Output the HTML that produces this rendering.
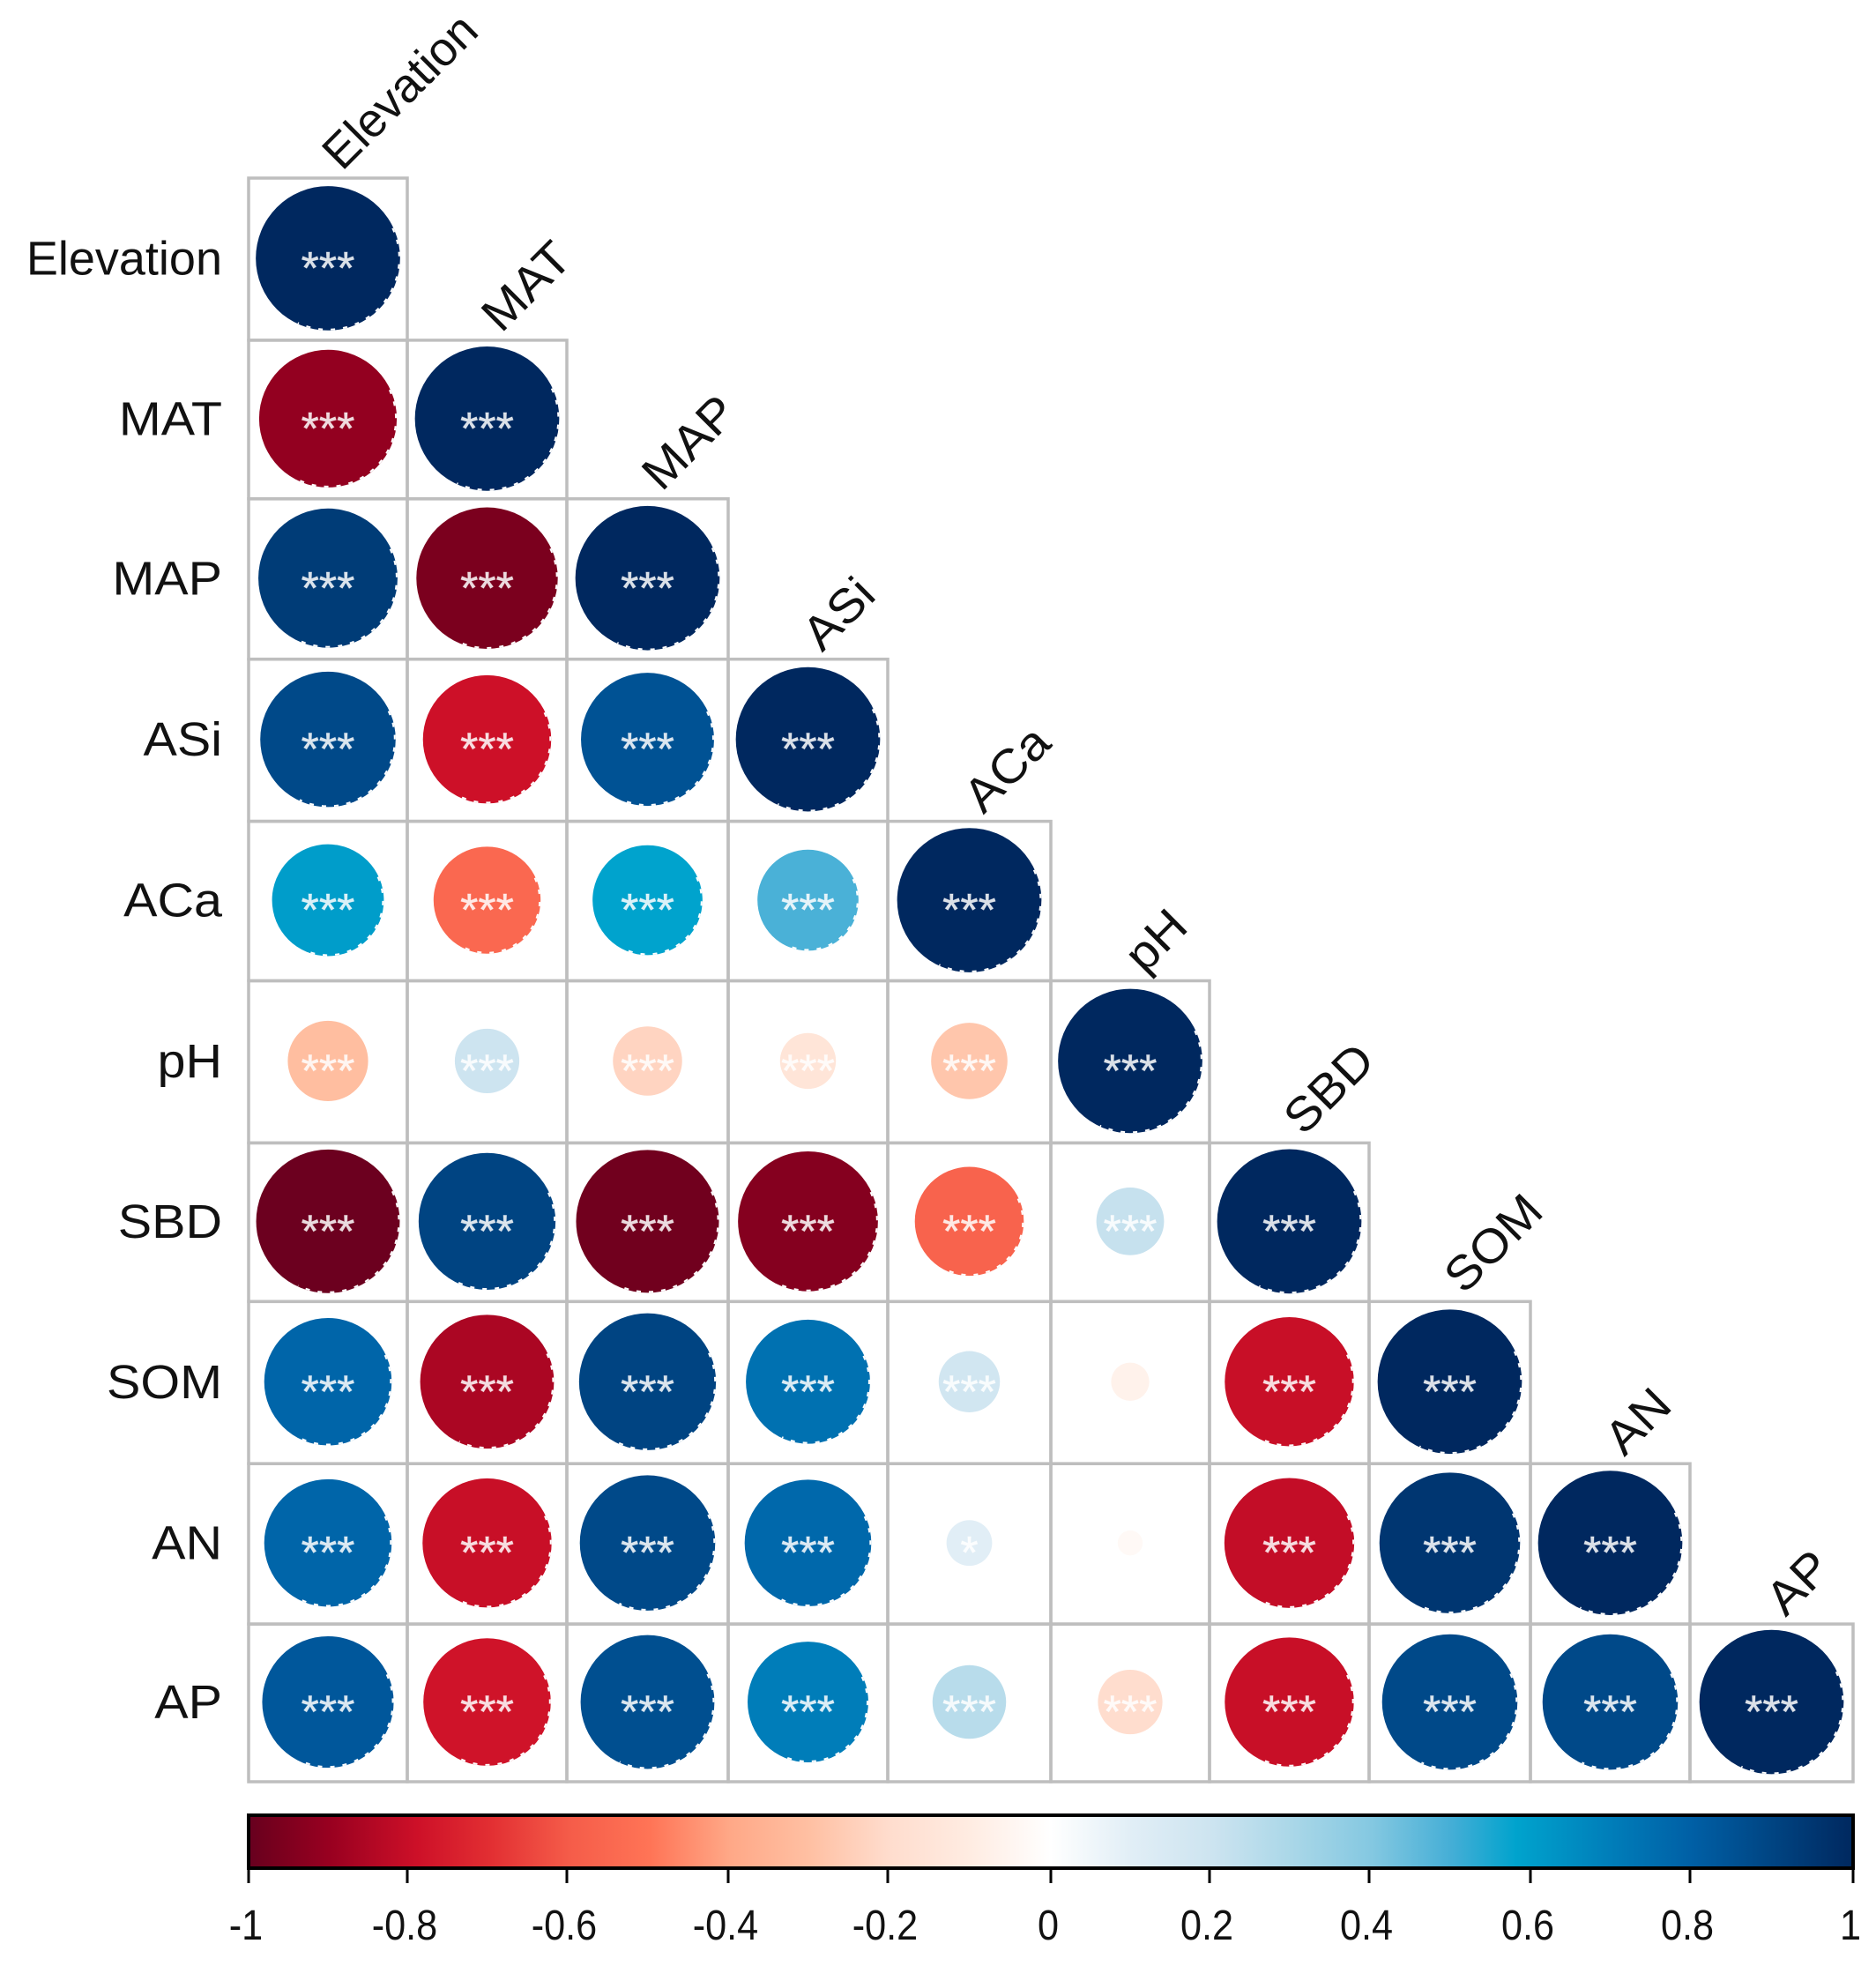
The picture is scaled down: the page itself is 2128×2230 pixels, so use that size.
<!DOCTYPE html>
<html lang="en">
<head>
<meta charset="utf-8">
<title>Correlation matrix</title>
<style>
html,body{margin:0;padding:0;background:#fff;width:2128px;height:2230px;overflow:hidden}
svg{display:block}
text{font-family:"Liberation Sans",sans-serif}
</style>
</head>
<body>
<svg id="chart" xmlns="http://www.w3.org/2000/svg" width="2128" height="2230" viewBox="0 0 2128 2230">
<defs><linearGradient id="barGradient" x1="0" x2="1" y1="0" y2="0"></linearGradient></defs>
<rect width="2128" height="2230" fill="#ffffff"/>
</svg>
<script>
const variables = ["Elevation","MAT","MAP","ASi","ACa","pH","SBD","SOM","AN","AP"];
const rowElevation = [1];
const rowMAT = [-0.91,1];
const rowMAP = [0.93,-0.96,1];
const rowASi = [0.88,-0.79,0.85,1];
const rowACa = [0.6,-0.55,0.58,0.49,1];
const rowPH = [-0.31,0.2,-0.23,-0.15,-0.28,1];
const rowSBD = [-0.99,0.9,-0.98,-0.94,-0.57,0.22,1];
const rowSOM = [0.78,-0.86,0.9,0.74,0.18,-0.07,-0.8,1];
const rowAN = [0.78,-0.8,0.88,0.77,0.1,-0.03,-0.81,0.95,1];
const rowAP = [0.83,-0.78,0.86,0.7,0.26,-0.2,-0.8,0.88,0.88,1];
const correlations = [rowElevation,rowMAT,rowMAP,rowASi,rowACa,rowPH,rowSBD,rowSOM,rowAN,rowAP];
const starsPH = [3,3,3,3,3,3];
const starsSOM = [3,3,3,3,3,0,3,3];
const starsAN = [3,3,3,3,1,0,3,3,3];
const significance = [[3],[3,3],[3,3,3],[3,3,3,3],[3,3,3,3,3],starsPH,[3,3,3,3,3,3,3],starsSOM,starsAN,[3,3,3,3,3,3,3,3,3,3]];
const scaleValues = [-1,-0.97,-0.9,-0.79,-0.7,-0.6,-0.5,-0.4,-0.3,-0.2,-0.1,0,0.1,0.2,0.3,0.4,0.5,0.58,0.7,0.8,0.9,1];
const scaleColors = [[103,0,31],[118,0,30],[152,0,32],[205,16,40],[226,46,50],[245,92,73],[255,116,86],[255,168,135],[255,192,163],[255,221,206],[255,236,226],[255,255,255],[225,238,246],[205,228,240],[170,215,232],[132,200,225],[68,174,214],[0,163,205],[0,125,185],[0,95,165],[0,68,130],[0,40,95]];
const tickLabels = ["-1","-0.8","-0.6","-0.4","-0.2","0","0.2","0.4","0.6","0.8","1"];

const NS = "http://www.w3.org/2000/svg";
const svg = document.getElementById("chart");
const gridLeft = 282, gridRight = 2102, gridTop = 202, gridBottom = 2021;
const count = variables.length;
const cellW = (gridRight - gridLeft) / count;
const cellH = (gridBottom - gridTop) / count;
const barTop = 2059, barBottom = 2119;
/* raster-rounding offsets of the original device grid (layout only) */
const snapX = [0,-2,-3,-2,-3,0,-2,-3,-2,-3,0];
const snapY = [0,2,0,0,2,1,3,1,3,3,0];

function xEdge(i){ return gridLeft + cellW * i + snapX[i]; }
function yEdge(i){ return gridTop + cellH * i + snapY[i]; }
function xCenter(i){ return (xEdge(i) + xEdge(i + 1)) / 2; }
function yCenter(i){ return (yEdge(i) + yEdge(i + 1)) / 2; }
function radius(v){ return 0.9 * Math.sqrt(Math.abs(v)) * Math.min(cellW, cellH) / 2; }
function labelStretch(name){ return name.length > 4 ? 1 : 1.065; }
function barX(v){
  const p = (v + 1) / 2 * count;
  const i = Math.min(count - 1, Math.floor(p + 1e-9));
  return xEdge(i) + (xEdge(i + 1) - xEdge(i)) * (p - i);
}
function colorFor(v){
  let k = 0;
  while (k < scaleValues.length - 2 && v > scaleValues[k + 1]) k++;
  const t = Math.max(0, Math.min(1, (v - scaleValues[k]) / (scaleValues[k + 1] - scaleValues[k])));
  const a = scaleColors[k], b = scaleColors[k + 1];
  return "rgb(" + a.map((c, n) => Math.round(c + (b[n] - c) * t)).join(",") + ")";
}
function make(tag, attrs, parent){
  const el = document.createElementNS(NS, tag);
  for (const key in attrs) el.setAttribute(key, attrs[key]);
  (parent || svg).appendChild(el);
  return el;
}

const grid = make("g", {fill:"none", stroke:"#bebebe", "stroke-width":3.5});


const marks = make("g", {});



correlations.forEach(function(row, r){
  const stretch = labelStretch(variables[r]);
  const rowLabel = make("text", {x:0, y:0, "text-anchor":"end", "font-size":54, fill:"#111",
    transform:"translate(252," + (yCenter(r) + 17.5) + ") scale(" + stretch + ",1)"});
  
  
  rowLabel.textContent = variables[r];

  const colLabel = make("text", {x:0, y:0, "font-size":54, fill:"#111",
    transform:"translate(" + (xCenter(r) + 16) + "," + (yEdge(r) - 7) + ") rotate(-45) scale(" + stretch + ",1)"});
  
  
  colLabel.textContent = variables[r];

  row.forEach(function(value, c){
    const cell = make("rect", {x:xEdge(c), y:yEdge(r), width:xEdge(c + 1) - xEdge(c), height:yEdge(r + 1) - yEdge(r)}, grid);
    
    

    const cx = xCenter(c), cy = yCenter(r), rad = radius(value);
    const dot = make("circle", {cx:cx, cy:cy - 1, r:rad, fill:colorFor(value)}, marks);
    
    

    if (Math.abs(value) > 0.45) {
      const a0 = -25 * Math.PI / 180, a1 = 115 * Math.PI / 180, er = rad - 1;
      const edge = make("path", {
        d:"M" + (cx + er * Math.cos(a0)) + " " + (cy - 1 + er * Math.sin(a0)) +
          " A" + er + " " + er + " 0 0 1 " + (cx + er * Math.cos(a1)) + " " + (cy - 1 + er * Math.sin(a1)),
        fill:"none", stroke:"#fff", "stroke-width":2, "stroke-dasharray":"5 9"}, marks);
      
      
    }

    const stars = significance[r][c];
    if (stars > 0) {
      const star = make("text", {x:cx, y:cy + 28, "text-anchor":"middle", "font-size":52, fill:"#fff", "fill-opacity":0.85,
        stroke:"#fff", "stroke-opacity":0.5, "stroke-width":0.8}, marks);
      
      
      star.textContent = "*".repeat(stars);
    }
  });
});

const gradient = document.getElementById("barGradient");
scaleValues.forEach(function(v, k){
  make("stop", {offset:(v + 1) / 2, "stop-color":"rgb(" + scaleColors[k].join(",") + ")"}, gradient);
});
const colorbar = make("rect", {x:gridLeft, y:barTop, width:gridRight - gridLeft, height:barBottom - barTop,
  fill:"url(#barGradient)", stroke:"#000", "stroke-width":4});



tickLabels.forEach(function(label){
  const v = parseFloat(label), x = barX(v);
  const tick = make("line", {x1:x, x2:x, y1:barBottom, y2:2136, stroke:"#000", "stroke-width":3});
  
  
  const text = make("text", {x:0, y:0, "text-anchor":"middle", "font-size":48, fill:"#111",
    transform:"translate(" + (x - 3) + ",2200) scale(0.9,1)"});
  
  
  text.textContent = label;
});
</script>
</body>
</html>
